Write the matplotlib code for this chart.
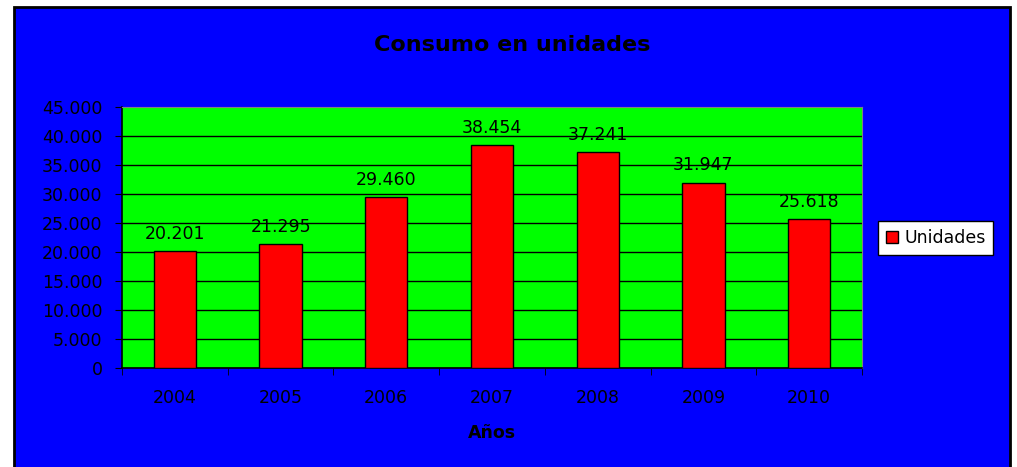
import matplotlib
matplotlib.use('Agg')
import matplotlib.pyplot as plt
from matplotlib.patches import Rectangle
from matplotlib.ticker import FuncFormatter

plt.rcParams['font.family'] = ['DejaVu Sans']

years = ['2004', '2005', '2006', '2007', '2008', '2009', '2010']
unidades = [20201, 21295, 29460, 38454, 37241, 31947, 25618]
series_name = 'Unidades'
title = 'Consumo en unidades'
xlabel = 'Años'


def miles(v, pos=None):
    return f'{int(v):,}'.replace(',', '.')


W, H = 1017, 467
fig = plt.figure(figsize=(W / 100, H / 100), dpi=100)
fig.patch.set_facecolor('white')

# blue chart background with black frame
fig.patches.append(Rectangle((14 / W, -0.02), (1010 - 14) / W, 1 - 7 / H + 0.02,
                             transform=fig.transFigure, facecolor='#0000FF',
                             edgecolor='black', linewidth=2, zorder=-10))

ax = fig.add_axes([122 / W, 1 - 368 / H, (862 - 122) / W, (368 - 107) / H])
ax.set_zorder(2)
ax.set_facecolor('#00FF00')

x = list(range(len(years)))
bars = ax.bar(x, unidades, width=0.4, color='#FF0000', edgecolor='black',
              linewidth=1, zorder=3, label=series_name)

for xi, v in zip(x, unidades):
    ax.annotate(miles(v), (xi, v), xytext=(0, 6), textcoords='offset points',
                ha='center', va='bottom', fontsize=12.5, color='black', zorder=4)

ax.set_xlim(-0.5, len(years) - 0.5)
ax.set_ylim(0, 45000)
ax.set_yticks(range(0, 45001, 5000))
ax.yaxis.set_major_formatter(FuncFormatter(miles))
ax.yaxis.grid(True, color='black', linewidth=1, zorder=1)
ax.set_axisbelow(True)
# top edge of the plot area is grey, not a black gridline
ax.yaxis.get_gridlines()[-1].set_visible(False)

ax.set_xticks(x)
ax.set_xticklabels(years)
ax.set_xticks([i - 0.5 for i in range(len(years) + 1)], minor=True)
ax.tick_params(axis='x', which='major', length=0, pad=15, labelsize=12.5)
ax.tick_params(axis='x', which='minor', length=5, direction='out', color='black')
ax.tick_params(axis='y', length=5, direction='out', color='black', labelsize=12.5, pad=9)

for s in ['top', 'right']:
    ax.spines[s].set_color('#808080')
    ax.spines[s].set_linewidth(0.8)
for s in ['left', 'bottom']:
    ax.spines[s].set_color('black')
    ax.spines[s].set_linewidth(1.2)

ax.set_xlabel(xlabel, fontsize=12.5, fontweight='bold', labelpad=12)
fig.text(512 / W, 1 - 45 / H, title, ha='center', va='center',
         fontsize=16, fontweight='bold', color='black')

leg = ax.legend(loc='center left', bbox_to_anchor=(878 / W, 1 - 238 / H),
                bbox_transform=fig.transFigure, frameon=True, fancybox=False,
                fontsize=12.5, handlelength=0.7, handleheight=0.7, handletextpad=0.35,
                borderpad=0.45, borderaxespad=0)
leg.get_frame().set_edgecolor('black')
leg.get_frame().set_linewidth(1)
leg.get_frame().set_facecolor('white')
leg.get_frame().set_alpha(1)

fig.savefig('out.png', dpi=100, facecolor=fig.get_facecolor())
